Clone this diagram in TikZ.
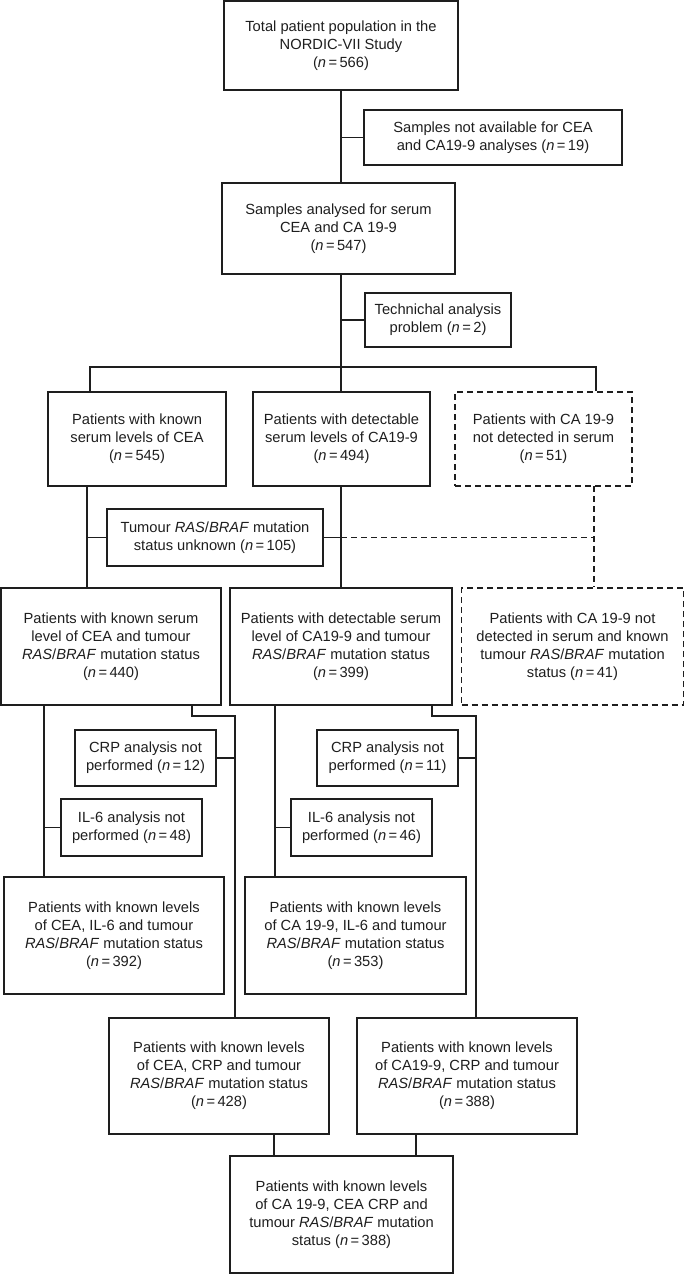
\documentclass[tikz,border=0pt]{standalone}
\usepackage{fontspec}
\setmainfont{Liberation Sans}
\begin{document}
\begin{tikzpicture}[x=1pt,y=-1pt,
  box/.style={draw=ink, line width=1.8pt, text=ink, align=center, inner sep=0pt,
    font=\fontsize{14.7}{18}\selectfont},
  dbox/.style={box, dash pattern=on 6pt off 4pt},
  conn/.style={draw=ink, line width=1.8pt},
  dconn/.style={conn, dash pattern=on 6pt off 4pt}]
\definecolor{ink}{HTML}{1E1E1E}
\newcommand{\nn}{\textit{n}\,=\,}
\newcommand{\rb}{\textit{RAS}/\textit{BRAF}}
\useasboundingbox (0,0) rectangle (685,1274);
% boxes
\node[box, minimum width=234, minimum height=89] (b1) at (341,45.5) {Total patient population in the\\NORDIC-VII Study\\(\nn566)};
\node[box, minimum width=258, minimum height=55] (b2) at (493,137.5) {Samples not available for CEA\\and CA19-9 analyses (\nn19)};
\node[box, minimum width=233, minimum height=91] (b3) at (338.5,228.5) {Samples analysed for serum\\CEA and CA 19-9\\(\nn547)};
\node[box, minimum width=146, minimum height=54] (b4) at (438,320) {Technichal analysis\\problem (\nn2)};
\node[box, minimum width=178, minimum height=94] (b5) at (137,439) {Patients with known\\serum levels of CEA\\(\nn545)};
\node[box, minimum width=177, minimum height=94] (b6) at (341.5,439) {Patients with detectable\\serum levels of CA19-9\\(\nn494)};
\node[dbox, minimum width=177, minimum height=94] (b7) at (543.5,439) {Patients with CA 19-9\\not detected in serum\\(\nn51)};
\node[box, minimum width=216, minimum height=57] (b8) at (215,537.5) {Tumour \rb{} mutation\\status unknown (\nn105)};
\node[box, minimum width=220, minimum height=117] (b9) at (111,646.5) {Patients with known serum\\level of CEA and tumour\\\rb{} mutation status\\(\nn440)};
\node[box, minimum width=222, minimum height=117] (b10) at (341,646.5) {Patients with detectable serum\\level of CA19-9 and tumour\\\rb{} mutation status\\(\nn399)};
\node[dbox, minimum width=222, minimum height=117] (b11) at (572.5,646.5) {Patients with CA 19-9 not\\detected in serum and known\\tumour \rb{} mutation\\status (\nn41)};
\node[box, minimum width=141, minimum height=56] (b12) at (145.5,758) {CRP analysis not\\performed (\nn12)};
\node[box, minimum width=141, minimum height=57] (b13) at (131.5,827.5) {IL-6 analysis not\\performed (\nn48)};
\node[box, minimum width=220, minimum height=117] (b14) at (114,935.5) {Patients with known levels\\of CEA, IL-6 and tumour\\\rb{} mutation status\\(\nn392)};
\node[box, minimum width=141, minimum height=56] (b15) at (387.5,758) {CRP analysis not\\performed (\nn11)};
\node[box, minimum width=141, minimum height=57] (b16) at (361.5,827.5) {IL-6 analysis not\\performed (\nn46)};
\node[box, minimum width=221, minimum height=117] (b17) at (355.5,935.5) {Patients with known levels\\of CA 19-9, IL-6 and tumour\\\rb{} mutation status\\(\nn353)};
\node[box, minimum width=220, minimum height=116] (b18) at (219,1076) {Patients with known levels\\of CEA, CRP and tumour\\\rb{} mutation status\\(\nn428)};
\node[box, minimum width=220, minimum height=116] (b19) at (467,1076) {Patients with known levels\\of CA19-9, CRP and tumour\\\rb{} mutation status\\(\nn388)};
\node[box, minimum width=223, minimum height=117] (b20) at (341.5,1214.5) {Patients with known levels\\of CA 19-9, CEA CRP and\\tumour \rb{} mutation\\status (\nn388)};
% helper coordinates
\coordinate (t1) at (341,90);
\coordinate (t3) at (341,274);
\coordinate (hb) at (341,367);
\coordinate (hl) at (90,367);
\coordinate (hr) at (596,367);
\coordinate (c5) at (87,486);
\coordinate (c6) at (341,486);
\coordinate (c7) at (594,486);
\coordinate (c9a) at (44,705);
\coordinate (c9b) at (192,705);
\coordinate (k9) at (235,716);
\coordinate (c10a) at (275,705);
\coordinate (c10b) at (432,705);
\coordinate (k10) at (476,716);
\coordinate (c18) at (274,1134);
\coordinate (c19) at (416,1134);
% connectors
\draw[conn] (t1) -- (t1 |- b3.north);
\draw[conn] (t1 |- b2.west) -- (b2.west);
\draw[conn] (t3) -- (hb);
\draw[conn] (hb |- b4.west) -- (b4.west);
\draw[conn] (hl |- b5.north) -- (hl) -- (hr) -- (hr |- b7.north);
\draw[conn] (hb) -- (hb |- b6.north);
\draw[conn] (c5) -- (c5 |- b9.north);
\draw[conn] (c5 |- b8.west) -- (b8.west);
\draw[conn] (c6) -- (c6 |- b10.north);
\draw[conn] (b8.east) -- (c6 |- b8.east);
\draw[dconn] (c6 |- b8.east) -- (c7 |- b8.east);
\draw[dconn] (c7) -- (c7 |- b11.north);
\draw[conn] (c9a) -- (c9a |- b14.north);
\draw[conn] (c9a |- b13.west) -- (b13.west);
\draw[conn] (c9b) -- (c9b |- k9) -- (k9) -- (k9 |- b18.north);
\draw[conn] (b12.east) -- (k9 |- b12.east);
\draw[conn] (c10a) -- (c10a |- b17.north);
\draw[conn] (c10a |- b16.west) -- (b16.west);
\draw[conn] (c10b) -- (c10b |- k10) -- (k10) -- (k10 |- b19.north);
\draw[conn] (b15.east) -- (k10 |- b15.east);
\draw[conn] (c18) -- (c18 |- b20.north);
\draw[conn] (c19) -- (c19 |- b20.north);
\end{tikzpicture}
\end{document}
